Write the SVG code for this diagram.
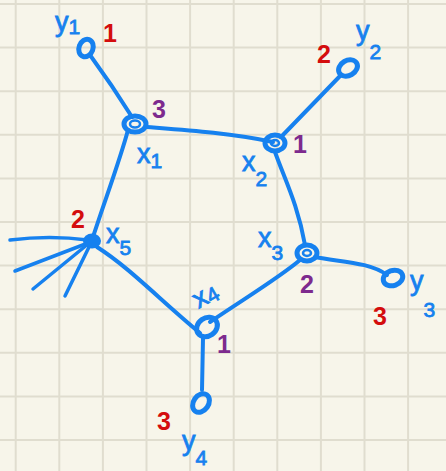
<svg xmlns="http://www.w3.org/2000/svg" width="446" height="471" viewBox="0 0 446 471">
<style>
.grid line{stroke:#e0ddcf;stroke-width:2}
.edge{fill:none;stroke:#1681ef;stroke-width:4;stroke-linecap:round;stroke-linejoin:round}
.spoke{fill:none;stroke:#1681ef;stroke-width:3.5;stroke-linecap:round}
.ring{fill:none;stroke:#1681ef;stroke-width:5}
.inner{fill:none;stroke:#1681ef;stroke-width:2.5}
.lbl{font-family:"Liberation Sans",Arial,sans-serif;fill:#1681ef;stroke:#1681ef;stroke-width:0.8;font-size:27px}
.sub{font-size:21px}
.red{font-family:"Liberation Sans",Arial,sans-serif;fill:#d40d0d;font-size:25px;font-weight:bold}
.pur{font-family:"Liberation Sans",Arial,sans-serif;fill:#7d2a8e;font-size:25px;font-weight:bold}
</style>
<rect width="446" height="471" fill="#f7f5ea"/>
<g class="grid">
<line x1="15.7" y1="0" x2="15.7" y2="471"/><line x1="59.3" y1="0" x2="59.3" y2="471"/><line x1="102.9" y1="0" x2="102.9" y2="471"/><line x1="146.5" y1="0" x2="146.5" y2="471"/><line x1="190.1" y1="0" x2="190.1" y2="471"/><line x1="233.7" y1="0" x2="233.7" y2="471"/><line x1="277.3" y1="0" x2="277.3" y2="471"/><line x1="320.9" y1="0" x2="320.9" y2="471"/><line x1="364.5" y1="0" x2="364.5" y2="471"/><line x1="408.1" y1="0" x2="408.1" y2="471"/>
<line x1="0" y1="4" x2="446" y2="4"/><line x1="0" y1="47.6" x2="446" y2="47.6"/><line x1="0" y1="91.2" x2="446" y2="91.2"/><line x1="0" y1="134.8" x2="446" y2="134.8"/><line x1="0" y1="178.4" x2="446" y2="178.4"/><line x1="0" y1="222" x2="446" y2="222"/><line x1="0" y1="265.6" x2="446" y2="265.6"/><line x1="0" y1="309.2" x2="446" y2="309.2"/><line x1="0" y1="352.8" x2="446" y2="352.8"/><line x1="0" y1="396.4" x2="446" y2="396.4"/><line x1="0" y1="440" x2="446" y2="440"/>
</g>
<g id="connectors">
<path class="edge" d="M90,55 Q112,85 132,117"/>
<path class="edge" d="M147,127 C185,130 230,133 273,142"/>
<path class="edge" d="M128,130 C120,160 105,200 92,240"/>
<path class="edge" d="M281,137 L341,75"/>
<path class="edge" d="M275,152 C285,180 298,205 305,245"/>
<path class="edge" d="M315,257 C340,262 370,262 387,275"/>
<path class="edge" d="M300,260 C280,277 250,295 210,322"/>
<path class="edge" d="M97,247 C130,268 160,300 200,333"/>
<path class="edge" d="M203,338 L202,390"/>
<path class="spoke" d="M88,240 Q50,235 10,240"/>
<path class="spoke" d="M88,243 L15,271"/>
<path class="spoke" d="M88,244 L33,289"/>
<path class="spoke" d="M90,245 L65,296"/>
</g>
<g id="y1">
<ellipse class="ring" cx="86" cy="48" rx="7" ry="9" transform="rotate(20 86 48)"/>
<text class="lbl" x="55" y="31">y<tspan class="sub" dy="3">1</tspan></text>
<text class="red" x="103" y="42">1</text>
</g>
<g id="x1">
<ellipse class="ring" cx="135" cy="124" rx="11" ry="8"/>
<ellipse class="inner" cx="135" cy="124" rx="5" ry="3.5"/>
<text class="lbl" x="137" y="163">x<tspan class="sub" dy="5">1</tspan></text>
<text class="pur" x="152" y="118">3</text>
</g>
<g id="x2">
<ellipse class="ring" cx="275" cy="143" rx="10" ry="8"/>
<ellipse class="inner" cx="275" cy="143" rx="4" ry="3"/>
<text class="lbl" x="242" y="171">x<tspan class="sub" dy="15">2</tspan></text>
<text class="pur" x="293" y="153">1</text>
</g>
<g id="y2">
<ellipse class="ring" cx="348" cy="68" rx="10" ry="7.5" transform="rotate(-30 348 68)"/>
<text class="lbl" x="356" y="40">y<tspan class="sub" dy="19">2</tspan></text>
<text class="red" x="317" y="63">2</text>
</g>
<g id="x3">
<ellipse class="ring" cx="307" cy="253" rx="10" ry="8"/>
<ellipse class="inner" cx="307" cy="253" rx="4" ry="3"/>
<text class="lbl" x="258" y="247">x<tspan class="sub" dy="13">3</tspan></text>
<text class="pur" x="300" y="293">2</text>
</g>
<g id="y3">
<ellipse class="ring" cx="393" cy="278" rx="10" ry="7.5" transform="rotate(-20 393 278)"/>
<text class="lbl" x="410" y="290">y<tspan class="sub" dy="27">3</tspan></text>
<text class="red" x="373" y="325">3</text>
</g>
<g id="x4">
<ellipse class="ring" cx="207" cy="327" rx="11" ry="9" transform="rotate(-35 207 327)"/>
<text class="lbl" x="193" y="304" transform="rotate(-30 205 296)">x<tspan class="sub" dy="2">4</tspan></text>
<text class="pur" x="217" y="353">1</text>
</g>
<g id="x5">
<ellipse cx="92" cy="241" rx="9" ry="7.5" fill="#1681ef"/>
<text class="lbl" x="106" y="243">x<tspan class="sub" font-size="23" dy="12">5</tspan></text>
<text class="red" x="71" y="228">2</text>
</g>
<g id="y4">
<ellipse class="ring" cx="201" cy="403" rx="7.5" ry="10" transform="rotate(35 201 403)"/>
<text class="lbl" x="182" y="450">y<tspan class="sub" dy="15">4</tspan></text>
<text class="red" x="157" y="430">3</text>
</g>
</svg>
